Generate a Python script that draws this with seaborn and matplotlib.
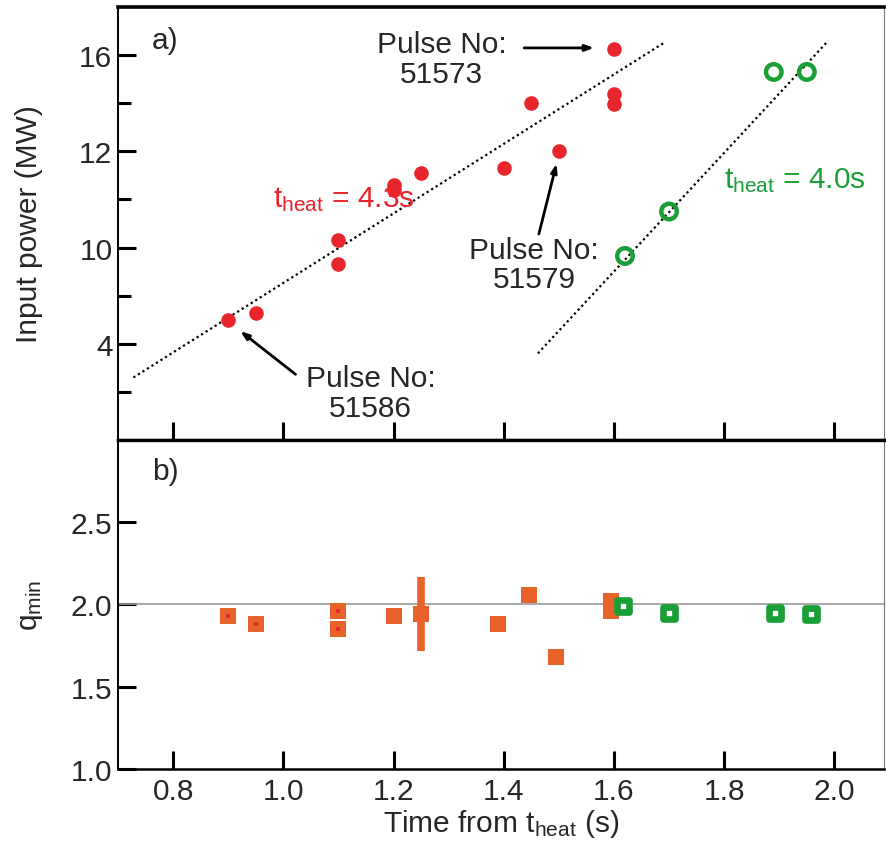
import matplotlib
matplotlib.use("Agg")
import matplotlib.pyplot as plt
import seaborn as sns
import numpy as np

# ---------------- data ----------------
# panel a) input power vs time from t_heat
red_t = [0.90, 0.95, 1.10, 1.10, 1.20, 1.20, 1.25, 1.40, 1.45, 1.50, 1.60, 1.60, 1.60]
red_p = [5.0, 5.3, 8.3, 7.3, 10.6, 10.4, 11.1, 11.3, 14.0, 12.0, 16.25, 14.4, 13.95]
green_t = [1.62, 1.70, 1.89, 1.95]
green_p = [7.65, 9.5, 15.3, 15.3]
red_fit_t = [0.728, 1.69]
red_fit_p = [2.6, 16.5]
green_fit_t = [1.462, 1.989]
green_fit_p = [3.6, 16.6]
power_ticks = [4, 8, 12, 16]
power_ticklabels = ["4", "10", "12", "16"]
power_minor = [2, 6, 10, 14]

# panel b) q_min
orange_t = [0.90, 0.95, 1.10, 1.10, 1.20, 1.25, 1.39, 1.445, 1.495, 1.595, 1.595]
orange_q = [1.93, 1.88, 1.96, 1.85, 1.93, 1.94, 1.88, 2.06, 1.68, 2.02, 1.96]
dot_t = [0.90, 0.95, 1.10, 1.10]
dot_q = [1.93, 1.88, 1.96, 1.85]
err_t = [1.25]
err_q = [1.94]
err_q_size = [0.225]
green_sq_t = [1.617, 1.70, 1.893, 1.957]
green_sq_q = [1.99, 1.95, 1.95, 1.94]
ref_q = 2.0
q_ticks = [1.0, 1.5, 2.0, 2.5]
x_ticks = [0.8, 1.0, 1.2, 1.4, 1.6, 1.8, 2.0]

# ---------------- style ----------------
sns.set_style("white")
plt.rcParams["font.family"] = ["Liberation Sans", "DejaVu Sans"]
plt.rcParams["mathtext.fontset"] = "custom"
plt.rcParams["mathtext.rm"] = "Liberation Sans"
plt.rcParams["mathtext.it"] = "Liberation Sans:italic"

RED = "#e8242c"
ORANGE = "#e8622c"
GREEN = "#1a9e36"
TXT = "#262626"
FS = 21.5

fig = plt.figure(figsize=(8.86, 8.45), dpi=100)
ax1 = fig.add_axes([0.1332, 0.4781, 0.8645, 0.5124])
ax2 = fig.add_axes([0.1332, 0.0888, 0.8645, 0.3893])

# ---------------- panel a ----------------
sns.lineplot(x=red_fit_t, y=red_fit_p, ax=ax1, color="k", lw=1.6,
             linestyle=(0, (1, 1.4)))
sns.lineplot(x=green_fit_t, y=green_fit_p, ax=ax1, color="k", lw=1.6,
             linestyle=(0, (1, 1.4)))
sns.scatterplot(x=red_t, y=red_p, ax=ax1, color=RED, s=110, linewidth=0, zorder=3)
sns.scatterplot(x=green_t, y=green_p, ax=ax1, facecolors="none", edgecolors=GREEN,
                s=125, linewidth=3.2, zorder=3)

ax1.set_xlim(0.70, 2.09)
ax1.set_ylim(0, 18)
ax1.set_yticks(power_ticks)
ax1.set_yticklabels(power_ticklabels)
ax1.set_yticks(power_minor, minor=True)
ax1.set_xticks(x_ticks)
ax1.set_xticklabels([])
ax1.set_ylabel("Input power (MW)", fontsize=FS, color=TXT)

ax1.text(0.762, 16.64, "a)", fontsize=FS, color=TXT, ha="left", va="center")
ax1.text(1.287, 15.85, "Pulse No:\n51573", fontsize=FS, color=TXT, ha="center",
         va="center", multialignment="center", linespacing=1.08)
ax1.text(1.455, 7.3, "Pulse No:\n51579", fontsize=FS, color=TXT, ha="center",
         va="center", multialignment="center", linespacing=1.08)
ax1.text(1.158, 1.95, "Pulse No:\n51586", fontsize=FS, color=TXT, ha="center",
         va="center", multialignment="center", linespacing=1.08)
arrow = dict(arrowstyle="-|>,head_length=0.5,head_width=0.18", color="k", lw=2)
ax1.annotate("", xy=(1.569, 16.3), xytext=(1.432, 16.3), arrowprops=arrow)
ax1.annotate("", xy=(1.497, 11.6), xytext=(1.4625, 8.45), arrowprops=arrow)
ax1.annotate("", xy=(0.918, 4.6), xytext=(1.026, 2.66), arrowprops=arrow)
ax1.text(0.981, 9.73, r"$\mathregular{t_{heat}}$ = 4.3s", fontsize=FS, color=RED,
         ha="left", va="baseline")
ax1.text(1.799, 10.53, r"$\mathregular{t_{heat}}$ = 4.0s", fontsize=FS, color=GREEN,
         ha="left", va="baseline")

# ---------------- panel b ----------------
ax2.axhline(ref_q, color="#9a9a9a", lw=1.2, zorder=1)
sns.scatterplot(x=orange_t, y=orange_q, ax=ax2, color=ORANGE, marker="s", s=145,
                linewidth=0, zorder=3)
ax2.errorbar(err_t, err_q, yerr=err_q_size, fmt="none", ecolor=ORANGE,
             elinewidth=5.5, capsize=0, zorder=3)
sns.scatterplot(x=dot_t, y=dot_q, ax=ax2, color=RED, marker="s", s=9,
                linewidth=0, zorder=4)
sns.scatterplot(x=green_sq_t, y=green_sq_q, ax=ax2, facecolor="white",
                edgecolor=GREEN, marker="s", s=78, linewidth=4.8, zorder=4)

ax2.set_xlim(0.70, 2.09)
ax2.set_ylim(1.0, 3.0)
ax2.set_yticks(q_ticks)
ax2.set_yticklabels([f"{v:.1f}" for v in q_ticks])
ax2.set_xticks(x_ticks)
ax2.set_xticklabels([f"{v:.1f}" for v in x_ticks])
ax2.set_ylabel(r"$\mathregular{q_{min}}$", fontsize=FS, color=TXT)
ax2.set_xlabel(r"Time from $\mathregular{t_{heat}}$ (s)", fontsize=FS, color=TXT,
               labelpad=1)
ax2.text(0.762, 2.81, "b)", fontsize=FS, color=TXT, ha="left", va="center")

# ---------------- axes styling ----------------
for ax in (ax1, ax2):
    ax.tick_params(axis="both", which="both", bottom=True, left=True, top=False,
                   right=False)
    ax.tick_params(axis="both", which="major", direction="in", length=13, width=2.2,
                   labelsize=FS, labelcolor=TXT, color="k")
    ax.tick_params(axis="y", which="major", pad=4)
    ax.tick_params(axis="x", which="major", pad=6)
    ax.tick_params(axis="y", which="minor", direction="in", length=9, width=2.2,
                   color="k")
    ax.spines["left"].set_linewidth(1.4)
    ax.spines["right"].set_linewidth(0.8)
    ax.spines["right"].set_color("#777777")
    for s in ("left", "top", "bottom"):
        ax.spines[s].set_color("k")
    ax.set_facecolor("white")
ax1.spines["top"].set_linewidth(2.6)
ax1.spines["bottom"].set_linewidth(2.4)
ax2.spines["top"].set_linewidth(2.4)
ax2.spines["bottom"].set_linewidth(1.8)
ax1.yaxis.set_label_coords(-0.098, 0.5)
ax2.yaxis.set_label_coords(-0.095, 0.5)

fig.savefig("out.png", dpi=100, facecolor="white")
